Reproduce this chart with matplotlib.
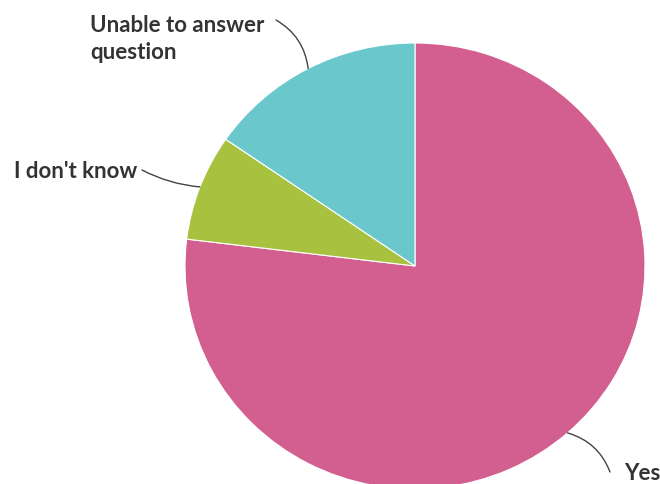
import numpy as np
import matplotlib
matplotlib.use("Agg")
import matplotlib.pyplot as plt

labels = ["Yes", "I don't know", "Unable to answer\nquestion"]
values = [10, 1, 2]
colors = ["#D25F90", "#A8C13F", "#6AC7CC"]

W, H = 660, 484
K = 230 / 223  # slight vertical squash seen in the reference
fig = plt.figure(figsize=(W / 100, H / 100), dpi=100)
ax = fig.add_axes([0, 0, 1, 1])


def py(y):
    """pixel row (top origin) -> data y"""
    return (H - y) * K


cx, cy, R = 415, py(266), 230
wedges, _ = ax.pie(values, colors=colors, startangle=90, counterclock=False,
                   center=(cx, cy), radius=R, frame=True,
                   wedgeprops=dict(edgecolor="white", linewidth=0.8))
ax.set_xlim(0, W)
ax.set_ylim(0, H * K)
ax.set_aspect("auto")
ax.axis("off")

# label placement (pixels, top-left origin): text anchor, alignment, curve
text_pos = {
    "Yes": (624, 474, "left", 0.25),
    "I don't know": (137, 171, "right", 0.1),
    "Unable to answer\nquestion": (90, 39, "left", -0.25),
}
line_start = {
    "Yes": (610, 472),
    "I don't know": (142, 170),
    "Unable to answer\nquestion": (276, 20),
}

for w, lab in zip(wedges, labels):
    mid = np.deg2rad((w.theta1 + w.theta2) / 2)
    ex, ey = cx + R * np.cos(mid), cy + R * np.sin(mid)
    tx, ty, ha, rad = text_pos[lab]
    lx, ly = line_start[lab]
    ax.annotate("", xy=(ex, ey), xytext=(lx, py(ly)),
                arrowprops=dict(arrowstyle="-", color="#444444", lw=1.0,
                                shrinkA=0, shrinkB=0,
                                connectionstyle=f"arc3,rad={rad}"))
    ax.text(tx, py(ty), lab, ha=ha, va="center", fontsize=16,
            fontweight="bold", color="#333333", family="Lato",
            linespacing=1.38)

fig.savefig("out.png", dpi=100)
